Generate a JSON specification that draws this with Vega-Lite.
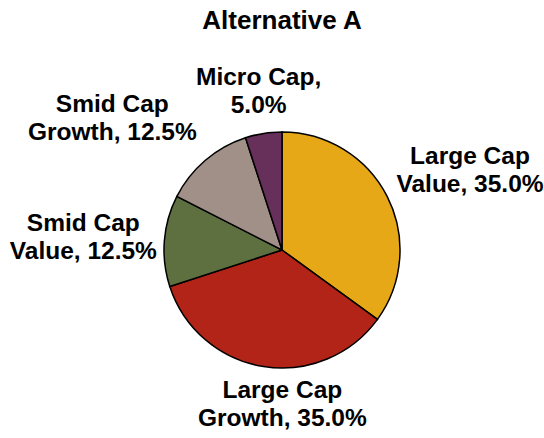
{
  "$schema": "https://vega.github.io/schema/vega-lite/v6.json",
  "width": 544,
  "height": 420,
  "autosize": {"type": "none"},
  "padding": {"left": 10, "top": 40, "right": 0, "bottom": 0},
  "background": "white",
  "title": {"text": "Alternative A", "font": "Liberation Sans", "fontSize": 26, "fontWeight": "bold", "color": "#000000", "anchor": "middle", "baseline": "alphabetic", "offset": 8, "dy": 22.5},
  "data": {"values": [
    {"segment": "Large Cap Value", "label": "Large Cap\nValue, 35.0%", "value": 35.0, "order": 1},
    {"segment": "Large Cap Growth", "label": "Large Cap\nGrowth, 35.0%", "value": 35.0, "order": 2},
    {"segment": "Smid Cap Value", "label": "Smid Cap\nValue, 12.5%", "value": 12.5, "order": 3},
    {"segment": "Smid Cap Growth", "label": "Smid Cap\nGrowth, 12.5%", "value": 12.5, "order": 4},
    {"segment": "Micro Cap", "label": "Micro Cap,\n5.0%", "value": 5.0, "order": 5}
  ]},
  "transform": [
    {"stack": "value", "groupby": [], "sort": [{"field": "order", "order": "ascending"}], "as": ["v0", "v1"]}
  ],
  "encoding": {
    "theta": {"field": "v0", "type": "quantitative", "stack": null, "scale": {"domain": [0, 100]}},
    "theta2": {"field": "v1"}
  },
  "layer": [
    {
      "mark": {"type": "arc", "outerRadius": 118, "stroke": "#000000", "strokeWidth": 1.5},
      "encoding": {
        "color": {"field": "segment", "type": "nominal", "legend": null,
          "scale": {"domain": ["Large Cap Value", "Large Cap Growth", "Smid Cap Value", "Smid Cap Growth", "Micro Cap"],
                    "range": ["#E6A817", "#B22418", "#5E7040", "#A09088", "#66305A"]}}
      }
    },
    {
      "transform": [{"filter": "datum.segment === 'Large Cap Value'"}],
      "mark": {"type": "text", "radius": 150, "dx": 188, "dy": 57, "font": "Liberation Sans", "fontSize": 24.5, "fontWeight": "bold", "lineBreak": "\n", "lineHeight": 28, "align": "center", "baseline": "middle", "color": "#000000"},
      "encoding": {"text": {"field": "label"}}
    },
    {
      "transform": [{"filter": "datum.segment === 'Large Cap Growth'"}],
      "mark": {"type": "text", "radius": 150, "dx": -121, "dy": 53, "font": "Liberation Sans", "fontSize": 24.5, "fontWeight": "bold", "lineBreak": "\n", "lineHeight": 28, "align": "center", "baseline": "middle", "color": "#000000"},
      "encoding": {"text": {"field": "label"}}
    },
    {
      "transform": [{"filter": "datum.segment === 'Smid Cap Value'"}],
      "mark": {"type": "text", "radius": 150, "dx": -56, "dy": -72, "font": "Liberation Sans", "fontSize": 24.5, "fontWeight": "bold", "lineBreak": "\n", "lineHeight": 28, "align": "center", "baseline": "middle", "color": "#000000"},
      "encoding": {"text": {"field": "label"}}
    },
    {
      "transform": [{"filter": "datum.segment === 'Smid Cap Growth'"}],
      "mark": {"type": "text", "radius": 150, "dx": -36, "dy": -77, "font": "Liberation Sans", "fontSize": 24.5, "fontWeight": "bold", "lineBreak": "\n", "lineHeight": 28, "align": "center", "baseline": "middle", "color": "#000000"},
      "encoding": {"text": {"field": "label"}}
    },
    {
      "transform": [{"filter": "datum.segment === 'Micro Cap'"}],
      "mark": {"type": "text", "radius": 150, "dx": 23, "dy": -29, "font": "Liberation Sans", "fontSize": 24.5, "fontWeight": "bold", "lineBreak": "\n", "lineHeight": 28, "align": "center", "baseline": "middle", "color": "#000000"},
      "encoding": {"text": {"field": "label"}}
    }
  ],
  "config": {"view": {"stroke": null}}
}
